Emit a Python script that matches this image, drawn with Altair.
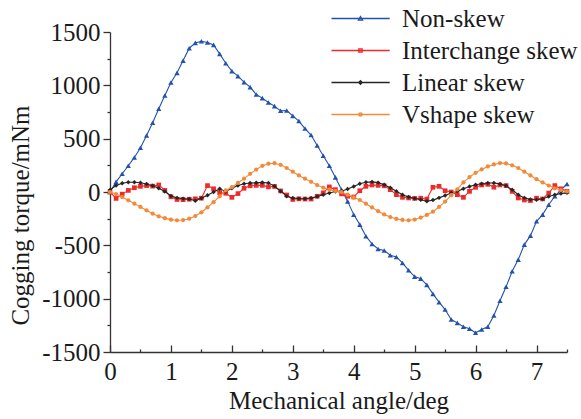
import altair as alt
import pandas as pd

# Mechanical angle (deg), one sample every 0.1 deg over one cogging period
angle = [round(i * 0.1, 1) for i in range(76)]

non_skew = [
    0, 95, 171, 246, 324, 415, 530, 649, 780, 904,
    1026, 1117, 1232, 1348, 1398, 1413, 1401, 1379, 1295, 1207,
    1133, 1086, 1030, 983, 914, 880, 839, 805, 761, 764,
    714, 665, 595, 534, 436, 340, 246, 137, 22, -88,
    -212, -306, -415, -487, -534, -549, -593, -609, -665, -734,
    -793, -812, -871, -955, -1033, -1102, -1195, -1227, -1264, -1282,
    -1320, -1289, -1264, -1158, -1020, -889, -743, -634, -493, -409,
    -275, -212, -119, -40, 20, 75,
]
interchange_skew = [
    0, -60, -20, 15, 40, 53, 60, 55, 66, 15,
    -45, -70, -72, -68, -64, -58, 60, 30, -5, -12,
    -50, -15, 35, 58, 62, 62, 48, 52, 10, -28,
    -70, -64, -66, -66, -40, -8, 48, 22, -18, -40,
    -47, 12, 53, 66, 62, 58, 22, -25, -50, -56,
    -60, -58, -66, 44, 53, 12, 0, -25, -50, 6,
    44, 66, 72, 45, 66, 60, 6, -56, -75, -80,
    -58, -65, -10, 60, 30, 6,
]
linear_skew = [
    20, 60, 82, 92, 92, 86, 75, 58, 35, 5,
    -38, -55, -62, -66, -82, -58, -30, 0, 30, 5,
    35, 60, 78, 85, 86, 90, 85, 55, 8, -40,
    -56, -62, -63, -56, -42, -25, -10, 5, 8, 28,
    52, 78, 92, 95, 88, 68, 40, 8, -25, -47,
    -60, -72, -86, -76, -55, -32, -10, 6, 30, 52,
    68, 78, 84, 84, 76, 58, 22, -25, -55, -70,
    -72, -65, -42, -26, -15, -8,
]
vshape_skew = [
    0, -19, -47, -78, -109, -140, -172, -203, -228, -245,
    -259, -265, -263, -250, -225, -190, -145, -95, -40, 15,
    45, 85, 125, 170, 210, 245, 265, 270, 255, 225,
    190, 155, 125, 95, 65, 40, 22, 10, 0, -25,
    -50, -75, -110, -145, -180, -210, -235, -252, -262, -265,
    -258, -240, -215, -185, -140, -90, -30, 25, 90, 140,
    180, 212, 240, 258, 271, 268, 250, 225, 190, 155,
    120, 90, 60, 35, 18, 5,
]

series_names = ["Non-skew", "Interchange skew", "Linear skew", "Vshape skew"]
series_colors = ["#2352ad", "#ee2a2a", "#262626", "#f28a3a"]
marker_shapes = ["triangle-up", "square", "diamond", "circle"]
marker_sizes = [28, 22, 20, 18]

# Legend glyphs: a short line with the series marker in its middle
legend_glyphs = [
    "M-9,0H0.7M-4.17,-0.34L-3.82,0.28L-4.52,0.28Z",
    "M-9,0H0.7M-4.45,-0.28H-3.89V0.28H-4.45Z",
    "M-9,0H0.7M-4.17,-0.3L-3.87,0L-4.17,0.3L-4.47,0Z",
    "M-9,0H0.7M-4.45,0A0.28,0.28 0 1,0 -3.89,0A0.28,0.28 0 1,0 -4.45,0Z",
]

frames = []
for name, vals in zip(series_names, [non_skew, interchange_skew, linear_skew, vshape_skew]):
    frames.append(pd.DataFrame({"angle": angle, "torque": vals, "series": name}))
df = pd.concat(frames, ignore_index=True)

FONT = "Liberation Serif"
W, H = 457, 320

x_scale = alt.Scale(domain=[0, 7.5], nice=False, zero=False)
y_scale = alt.Scale(domain=[-1500, 1500], nice=False)
color_scale = alt.Scale(domain=series_names, range=series_colors)

y_axis = alt.Axis(
    values=list(range(-1500, 1501, 250)),
    labelExpr="datum.value % 500 === 0 ? '' + datum.value : ''",
    tickSize={"condition": {"test": "datum.value % 500 === 0", "value": 7}, "value": 3},
    labelPadding=3,
    labelFlush=False,
    grid=False,
    title="Cogging torque/mNm",
    titleX=-77,
    titleY=183,
    titleBaseline="bottom",
)

x_axis_labels = alt.Axis(
    values=list(range(0, 8)),
    labelExpr="'' + datum.value",
    ticks=False,
    labelBaseline="alphabetic",
    labelPadding=27,
    labelFlush=False,
    grid=False,
    title="Mechanical angle/deg",
    titleX=W / 2,
    titleY=56,
    titleBaseline="alphabetic",
)

# Inward-pointing tick marks along the bottom edge
x_axis_ticks = alt.Axis(
    orient="top",
    offset=-H,
    values=[i * 0.5 for i in range(16)],
    labels=False,
    domain=False,
    grid=False,
    tickSize={"condition": {"test": "datum.value % 1 === 0", "value": 7}, "value": 3},
    title=None,
)

Y = alt.Y("torque:Q", scale=y_scale, axis=y_axis)

base = alt.Chart(df)

axis_layer = base.mark_line(opacity=0).encode(
    x=alt.X("angle:Q", scale=x_scale, axis=x_axis_labels),
    y=Y,
    detail="series:N",
)

tick_layer = base.mark_point(opacity=0).encode(
    x=alt.X("angle:Q", scale=x_scale, axis=x_axis_ticks),
    y=Y,
)

series_layers = []
for name, col, shp, sz in zip(series_names, series_colors, marker_shapes, marker_sizes):
    sub = base.transform_filter(alt.datum.series == name)
    series_layers.append(
        sub.mark_line(strokeWidth=1.1, color=col).encode(
            x=alt.X("angle:Q", scale=x_scale, axis=None), y=Y, order="angle:Q"
        )
    )
    series_layers.append(
        sub.mark_point(filled=True, shape=shp, size=sz, color=col, opacity=1).encode(
            x=alt.X("angle:Q", scale=x_scale, axis=None), y=Y
        )
    )

legend_props = dict(
    title=None,
    orient="none",
    legendX=263,
    legendY=-26,
    labelFont=FONT,
    labelFontSize=25,
    labelColor="#1a1a1a",
    labelLimit=0,
    symbolSize=144,
    symbolStrokeWidth=1.3,
    symbolOpacity=1,
    rowPadding=6,
    padding=0,
)

legend_layer = base.mark_point(filled=False, opacity=0, size=144, strokeWidth=1.3).encode(
    x=alt.X("angle:Q", scale=x_scale, axis=None),
    y=Y,
    color=alt.Color("series:N", scale=color_scale, legend=alt.Legend(**legend_props)),
    shape=alt.Shape(
        "series:N",
        scale=alt.Scale(domain=series_names, range=legend_glyphs),
        legend=alt.Legend(**legend_props),
    ),
)

chart = (
    alt.layer(axis_layer, tick_layer, *series_layers, legend_layer)
    .resolve_axis(x="independent")
    .properties(
        width=W,
        height=H,
        padding={"left": 110, "top": 32, "right": 14, "bottom": 67},
        autosize=alt.AutoSizeParams(type="none"),
        background="white",
    )
    .configure_view(stroke=None)
    .configure_axis(
        labelFont=FONT,
        labelFontSize=25,
        labelColor="#1a1a1a",
        titleFont=FONT,
        titleFontSize=25,
        titleFontWeight="normal",
        titleColor="#1a1a1a",
        domainColor="#333333",
        domainWidth=1.3,
        tickColor="#333333",
        tickWidth=1.3,
    )
)

chart.save("out.html", embed_options={"renderer": "svg", "actions": False})
